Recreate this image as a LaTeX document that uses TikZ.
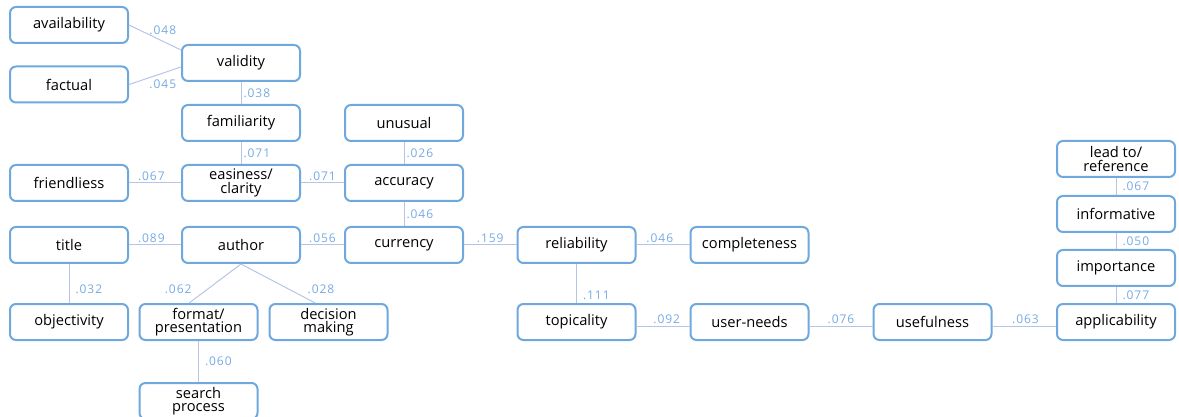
\documentclass[tikz,border=0pt]{standalone}
\usepackage{fontspec}
\setmainfont{Open Sans}
\newfontfamily\numfont[LetterSpace=8]{Open Sans}
\usepackage{tikz}
\usepackage{xcolor}

\definecolor{boxblue}{RGB}{111,168,220}
\definecolor{linkblue}{RGB}{182,196,232}
\definecolor{numblue}{RGB}{118,170,228}

\begin{document}
\begin{tikzpicture}[x=0.75pt, y=-0.75pt,
        item/.style={draw=boxblue, line width=1.5pt, rounded corners=4.5pt,
            minimum width=88.5pt, minimum height=27pt, inner sep=0pt,
            align=center, font=\fontsize{11}{10}\selectfont},
        link/.style={linkblue, line width=0.75pt},
        val/.style={text=numblue, inner sep=1.5pt, font=\numfont\fontsize{9}{9}\selectfont}]
                \useasboundingbox (0,0) rectangle (1179,417);

                %% first column
                \node[item] (avail)   at (69,25)   {availability};
                \node[item] (factual) at (69,84.5) {factual};
                \node[item] (friend)  at (69,183)  {friendliess};
                \node[item] (title)   at (69,245)  {title};
                \node[item] (object)  at (69,322)  {objectivity};

                %% second column
                \node[item] (validity) at (241,63)  {validity};
                \node[item] (familiar) at (241,123) {familiarity};
                \node[item] (easy)     at (241,183) {easiness/\\clarity};
                \node[item] (author)   at (241,245) {author};

                %% third column
                \node[item] (unusual)  at (404,123) {unusual};
                \node[item] (accuracy) at (404,183) {accuracy};
                \node[item] (currency) at (404,245) {currency};

                %% under author
                \node[item] (format)   at (198.5,322) {format/\\presentation};
                \node[item] (decision) at (328.5,322) {decision\\making};
                \node[item] (search)   at (198.5,401) {search\\process};

                %% right part
                \node[item] (reliab)    at (576.5,245) {reliability};
                \node[item] (complete)  at (749.5,245) {completeness};
                \node[item] (topical)   at (576.5,322) {topicality};
                \node[item] (userneeds) at (749.5,322) {user-needs};
                \node[item] (useful)    at (932.5,322) {usefulness};
                \node[item] (applic)    at (1116,322)  {applicability};
                \node[item] (import)    at (1116,268)  {importance};
                \node[item] (inform)    at (1116,214)  {informative};
                \node[item] (lead)      at (1116,159)  {lead to/\\reference};

                %% links
                \draw[link] (avail.east) -- node[val, pos=0.65, above=3pt] {.048} ([yshift=9.75pt]validity.west);
                \draw[link] (factual.east) -- node[val, pos=0.65, below=3pt] {.045} ([yshift=-3pt]validity.west);
                \draw[link] (validity) -- node[val, right] {.038} (familiar);
                \draw[link] (familiar) -- node[val, right] {.071} (easy);
                \draw[link] (unusual) -- node[val, right] {.026} (accuracy);
                \draw[link] (friend) -- node[val, pos=0.43, above] {.067} (easy);
                \draw[link] (easy) -- node[val, above] {.071} (accuracy);
                \draw[link] (accuracy) -- node[val, right] {.046} (currency);
                \draw[link] (title) -- node[val, pos=0.43, above] {.089} (author);
                \draw[link] (author) -- node[val, above] {.056} (currency);
                \draw[link] (title) -- node[val, pos=0.65, right=3pt] {.032} (object);
                \draw[link] (author.south) -- node[val, pos=0.65, left=10pt] {.062} ([xshift=-7pt]format.north);
                \draw[link] (author.south) -- node[val, pos=0.65, right=12pt] {.028} ([xshift=-10pt]decision.north);
                \draw[link] (format) -- node[val, right=3pt] {.060} (search);
                \draw[link] (currency) -- node[val, above] {.159} (reliab);
                \draw[link] (reliab) -- node[val, pos=0.44, above] {.046} (complete);
                \draw[link] (reliab) -- node[val, pos=0.8, right=3pt] {.111} (topical);
                \draw[link] ([yshift=-3pt]topical.east) -- node[val, pos=0.57, above] {.092} ([yshift=-3pt]userneeds.west);
                \draw[link] ([yshift=-3pt]userneeds.east) -- node[val, above] {.076} ([yshift=-3pt]useful.west);
                \draw[link] ([yshift=-3pt]useful.east) -- node[val, pos=0.52, above] {.063} ([yshift=-3pt]applic.west);
                \draw[link] (import) -- node[val, right=3pt] {.077} (applic);
                \draw[link] (inform) -- node[val, right=3pt] {.050} (import);
                \draw[link] (lead) -- node[val, right=3pt] {.067} (inform);

\end{tikzpicture}
\end{document}
